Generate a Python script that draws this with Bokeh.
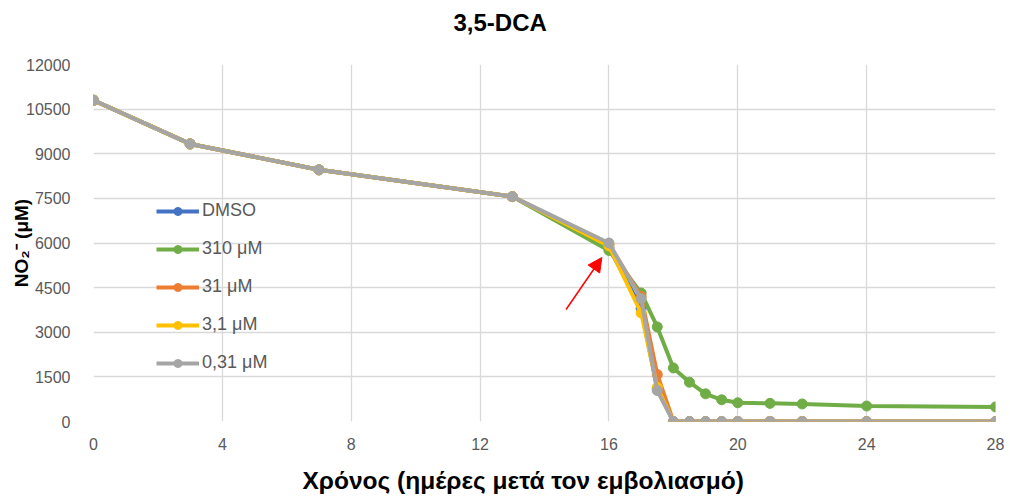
from bokeh.plotting import figure
from bokeh.layouts import column
from bokeh.models import Range1d, Legend, LegendItem, Arrow, NormalHead, FixedTicker
from bokeh.core.properties import value
from bokeh.embed import file_html
from bokeh.resources import INLINE

days = [0, 3, 7, 13, 16, 17, 17.5, 18, 18.5, 19, 19.5, 20, 21, 22, 24, 28]
dmso = [10800, 9330, 8460, 7560, 5850, 3800, 1100, 0, 0, 0, 0, 0, 0, 0, 0, 0]
c310 = [10800, 9330, 8460, 7560, 5750, 4320, 3180, 1800, 1320, 930, 730, 630, 610, 590, 520, 490]
c31 = [10800, 9330, 8460, 7560, 5950, 4200, 1580, 0, 0, 0, 0, 0, 0, 0, 0, 0]
c3_1 = [10800, 9330, 8460, 7560, 5900, 3650, 1150, 0, 0, 0, 0, 0, 0, 0, 0, 0]
c0_31 = [10800, 9330, 8460, 7560, 6000, 4130, 1040, 0, 0, 0, 0, 0, 0, 0, 0, 0]

labels = ["DMSO", "310 μM", "31 μM", "3,1 μM", "0,31 μM"]
series = [dmso, c310, c31, c3_1, c0_31]
colors = ["#4472C4", "#70AD47", "#ED7D31", "#FFC000", "#A5A5A5"]

x_ticks = [0, 4, 8, 12, 16, 20, 24, 28]
y_ticks = [0, 1500, 3000, 4500, 6000, 7500, 9000, 10500, 12000]

title_text = "3,5-DCA"
xlabel_text = "Χρόνος (ημέρες μετά τον εμβολιασμό)"
ylabel_text = "NO₂⁻ (μM)"


def text_strip(txt, x_px, y_px, size):
    # frames are aligned with the main plot's frame (pixels 93..995)
    f = figure(width=1010, height=44, output_backend="svg", toolbar_location=None,
               x_range=Range1d(93, 995), y_range=Range1d(44, 0),
               x_axis_location=None, y_axis_location=None, min_border=0)
    f.outline_line_color = None
    f.grid.visible = False
    f.text(x=[x_px], y=[y_px], text=[txt], text_align="left", text_baseline="middle",
           text_font=value("Liberation Sans"), text_font_size=size, text_font_style="bold",
           text_color="black")
    return f


top = text_strip(title_text, 453, 22, "24px")

p = figure(width=1010, height=409, output_backend="svg", toolbar_location=None,
           x_range=Range1d(0, 28), y_range=Range1d(0, 12000),
           min_border_left=93, min_border_right=15, min_border_top=20, min_border_bottom=32)
p.outline_line_color = None
p.background_fill_color = "white"

p.xaxis.ticker = FixedTicker(ticks=x_ticks)
p.yaxis.ticker = FixedTicker(ticks=y_ticks)
for ax in (p.xaxis, p.yaxis):
    ax.axis_line_color = None
    ax.major_tick_line_color = None
    ax.minor_tick_line_color = None
    ax.major_label_text_color = "#595959"
    ax.major_label_text_font = "Liberation Sans"
    ax.axis_label_text_font = "Liberation Sans"
    ax.axis_label_text_font_style = "bold"
    ax.axis_label_text_color = "black"
p.xaxis.major_label_text_font_size = "16px"
p.yaxis.major_label_text_font_size = "16px"
p.xaxis.major_label_standoff = 10
p.yaxis.major_label_standoff = 17
p.yaxis.axis_label = ylabel_text
p.yaxis.axis_label_text_font_size = "19px"
p.yaxis.axis_label_standoff = -9

p.xgrid.grid_line_color = "#D9D9D9"
p.ygrid.grid_line_color = "#D9D9D9"
p.xgrid.grid_line_width = 1.3
p.ygrid.grid_line_width = 1.3

items = []
for lab, ys, col in zip(labels, series, colors):
    r1 = p.line(days, ys, line_color=col, line_width=4)
    r2 = p.scatter(days, ys, size=10, fill_color=col, line_color=col)
    items.append(LegendItem(label=lab, renderers=[r1, r2]))

legend = Legend(items=items, location=(63, 48), orientation="vertical",
                glyph_width=43, glyph_height=20, label_height=20, spacing=17,
                padding=5, margin=0, label_standoff=3,
                label_text_font="Liberation Sans", label_text_font_size="18px",
                label_text_color="#595959", border_line_color=None,
                background_fill_alpha=0)
p.add_layout(legend, "center")

p.add_layout(Arrow(end=NormalHead(size=14, fill_color="red", line_color="red"),
                   x_start=14.67, y_start=3765, x_end=15.78, y_end=5513,
                   line_color="red", line_width=1.5))

bottom = text_strip(xlabel_text, 302, 27, "24.5px")

layout = column(top, p, bottom, spacing=0)
open("out.html", "w").write(file_html(layout, INLINE))
